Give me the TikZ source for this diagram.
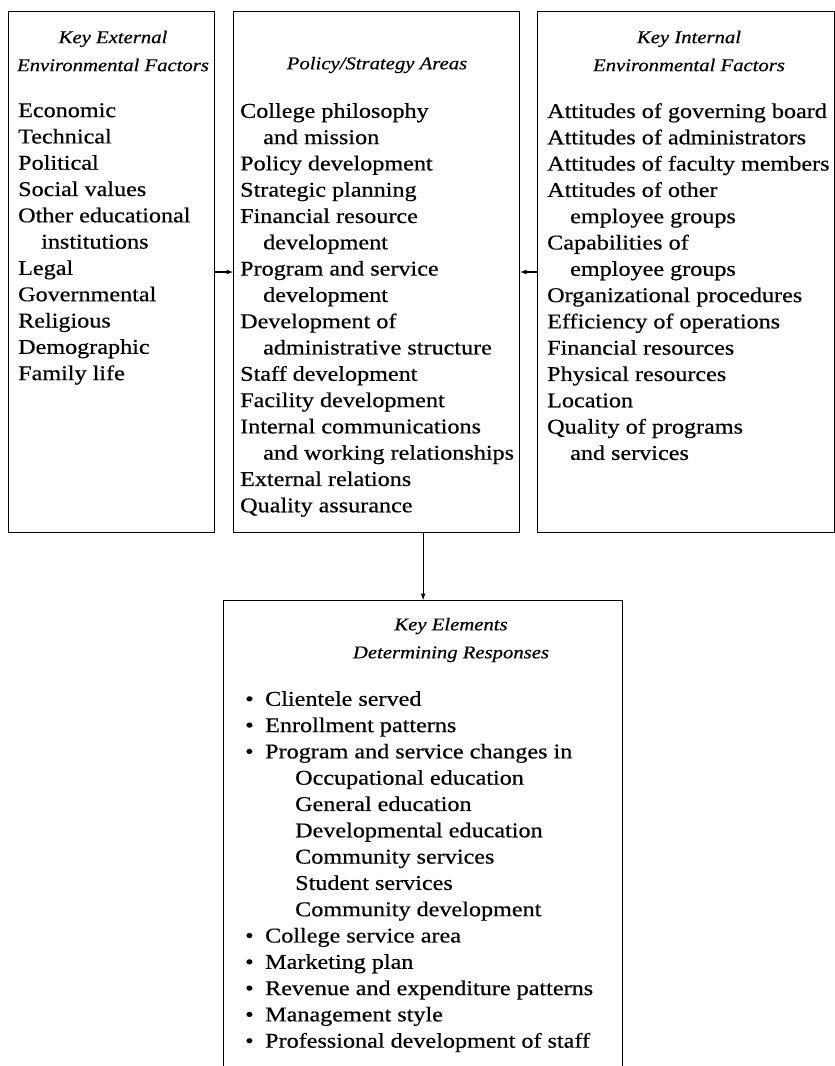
\documentclass[tikz,border=0pt]{standalone}
\usepackage{fontspec}
\setmainfont{Liberation Serif}[FakeStretch=1.15, FakeBold=0.5]
\usetikzlibrary{positioning}

\begin{document}
\begin{tikzpicture} [x=1pt, y=-1pt,
  box/.style={draw, line width=1.2pt, rectangle, inner sep=0pt, anchor=north west},
  head/.style={font=\fontsize{18}{28}\selectfont\itshape, align=center, inner sep=0pt},
  list/.style={font=\fontsize{21}{26.3}\selectfont, align=left, inner sep=0pt, anchor=north west},
  link/.style={-latex, line width=1.2pt}]
\useasboundingbox (0,0) rectangle (835,1066);
\newcommand{\ind}{\hspace*{23pt}}
\newcommand{\bul}{\makebox[20pt][l]{\textbullet}}

% the three upper boxes
\node [box, minimum width=206pt, minimum height=521pt] (ext) at (8,11) {};
\node [box, minimum width=286pt, minimum height=521pt] (pol) at (233,11) {};
\node [box, minimum width=297pt, minimum height=521pt] (int) at (537,11) {};
% the lower box, open at the foot of the page
\node [box, minimum width=399pt, minimum height=500pt] (resp) at (223,600) {};

\node [head] (exthead) at (113,51) {Key External\\Environmental Factors};
\node [head] (polhead) at (377,65) {Policy/Strategy Areas};
\node [head] (inthead) at (689,51) {Key Internal\\Environmental Factors};
\node [head] (resphead) at (451,640) {Key Elements\\Determining Responses};

\node [list] (extlist) at (18,103) {Economic\\Technical\\Political\\Social values\\
  Other educational\\\ind institutions\\Legal\\Governmental\\Religious\\Demographic\\Family life};
\node [list] (pollist) at (240,103) {College philosophy\\\ind and mission\\Policy development\\
  Strategic planning\\Financial resource\\\ind development\\Program and service\\\ind development\\
  Development of\\\ind administrative structure\\Staff development\\Facility development\\
  Internal communications\\\ind and working relationships\\External relations\\Quality assurance};
\node [list] (intlist) at (547,103) {Attitudes of governing board\\Attitudes of administrators\\
  Attitudes of faculty members\\Attitudes of other\\\ind employee groups\\Capabilities of\\
  \ind employee groups\\Organizational procedures\\Efficiency of operations\\Financial resources\\
  Physical resources\\Location\\Quality of programs\\\ind and services};
\node [list] (resplist) at (245,691) {\bul Clientele served\\\bul Enrollment patterns\\
  \bul Program and service changes in\\
  \hspace*{50pt}Occupational education\\\hspace*{50pt}General education\\
  \hspace*{50pt}Developmental education\\\hspace*{50pt}Community services\\
  \hspace*{50pt}Student services\\\hspace*{50pt}Community development\\
  \bul College service area\\\bul Marketing plan\\\bul Revenue and expenditure patterns\\
  \bul Management style\\\bul Professional development of staff};

\coordinate (mid) at (0,272);
\draw [link] (ext.east |- mid) -- (pol.west |- mid);
\draw [link] (int.west |- mid) -- (pol.east |- mid);
\draw [link] (pol.south -| resp.north) -- (resp.north);
\end{tikzpicture}
\end{document}
